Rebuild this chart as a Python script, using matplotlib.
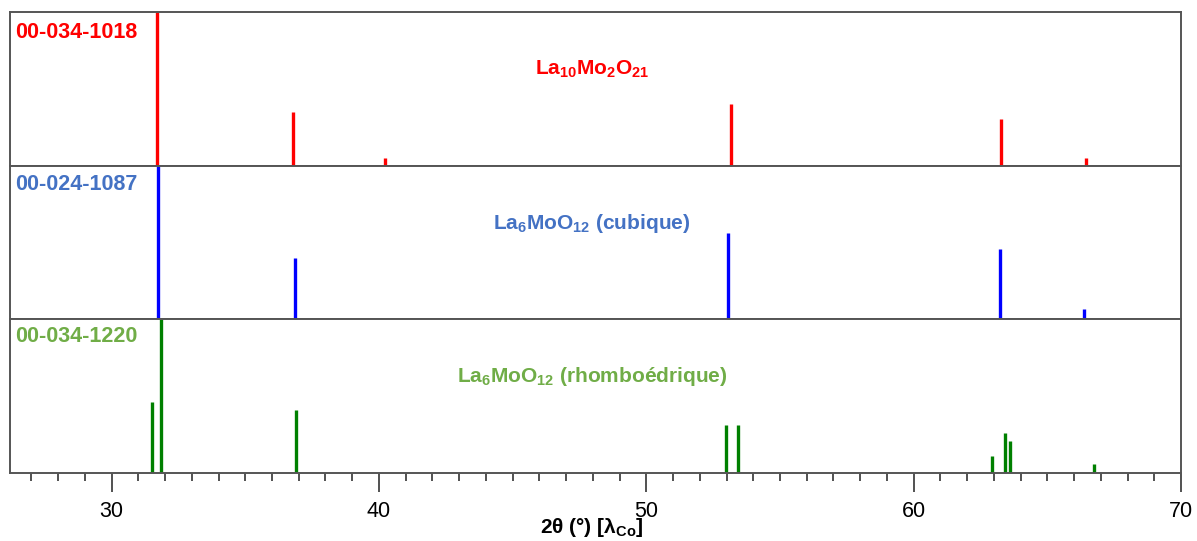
import matplotlib.pyplot as plt
from matplotlib.ticker import MultipleLocator

plt.rcParams['font.family'] = ['Liberation Sans', 'DejaVu Sans']
plt.rcParams['mathtext.fontset'] = 'custom'
plt.rcParams['mathtext.rm'] = 'Liberation Sans:bold'
plt.rcParams['mathtext.it'] = 'Liberation Sans:bold'
plt.rcParams['mathtext.bf'] = 'Liberation Sans:bold'
plt.rcParams['mathtext.default'] = 'bf'

# reference patterns: 2theta (Co K-alpha) and relative intensity
red_pos = [31.68, 36.77, 40.22, 53.17, 63.27, 66.45]
red_int = [1.00, 0.35, 0.05, 0.40, 0.305, 0.05]

blue_pos = [31.72, 36.85, 53.05, 63.23, 66.38]
blue_int = [1.00, 0.40, 0.56, 0.455, 0.065]

green_pos = [31.53, 31.83, 36.89, 52.98, 53.43, 62.93, 63.42, 63.61, 66.75]
green_int = [0.46, 1.00, 0.41, 0.31, 0.31, 0.11, 0.26, 0.21, 0.06]

cards = ['00-034-1018', '00-024-1087', '00-034-1220']
phases = [r'La$_{10}$Mo$_{2}$O$_{21}$', r'La$_{6}$MoO$_{12}$ (cubique)',
          r'La$_{6}$MoO$_{12}$ (rhomboédrique)']
line_colors = ['#ff0000', '#0000ff', '#008000']
text_colors = ['#ff0000', '#4472c4', '#70ad47']
card_y = [0.83, 0.84, 0.85]

fig = plt.figure(figsize=(11.97, 5.41), dpi=100)
left, right = 10 / 1197, 1181 / 1197
bottom, top = 1 - 473 / 541, 1 - 12 / 541
h = (top - bottom) / 3

data = [(red_pos, red_int), (blue_pos, blue_int), (green_pos, green_int)]
axes = []
for i, (pos, inten) in enumerate(data):
    ax = fig.add_axes([left, top - (i + 1) * h, right - left, h])
    ax.vlines(pos, 0, inten, color=line_colors[i], lw=2.4, capstyle='butt')
    ax.set_xlim(26.2, 70)
    ax.set_ylim(0, 1)
    ax.set_yticks([])
    for s in ax.spines.values():
        s.set_color('#555555')
        s.set_linewidth(1.4)
    ax.text(0.004, card_y[i], cards[i], transform=ax.transAxes, color=text_colors[i],
            fontsize=15.5, fontweight='bold', ha='left', va='baseline')
    ax.text(0.497, 0.59, phases[i], transform=ax.transAxes, color=text_colors[i],
            fontsize=15, fontweight='bold', ha='center', va='baseline')
    if i < 2:
        ax.set_xticks([])
    axes.append(ax)

ax = axes[-1]
ax.xaxis.set_major_locator(MultipleLocator(10))
ax.xaxis.set_minor_locator(MultipleLocator(1))
ax.tick_params(axis='x', which='major', length=14, width=1.2, color='#333333',
               labelsize=15.5, pad=6)
ax.tick_params(axis='x', which='minor', length=6, width=1.2, color='#333333')

fig.text(0.494, 0.014, r'2θ (°) [λ$_{Co}$]', ha='center', va='baseline',
         fontsize=15, fontweight='bold')

fig.savefig('out.png', dpi=100)
